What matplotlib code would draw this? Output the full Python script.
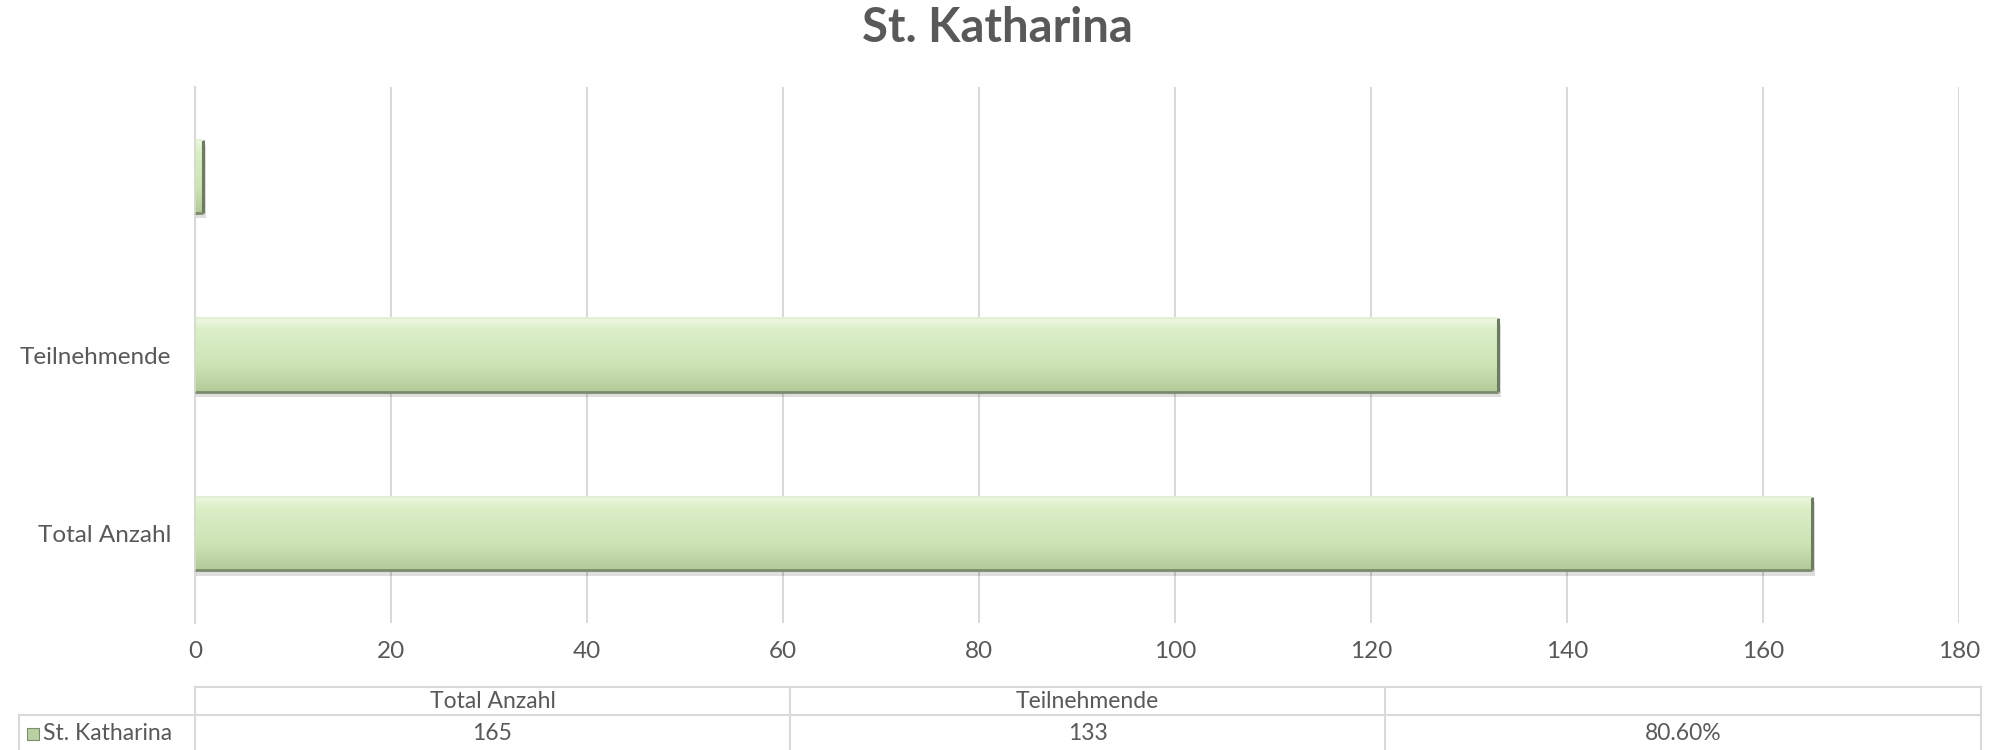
import numpy as np
import matplotlib
matplotlib.use("Agg")
import matplotlib.pyplot as plt
from matplotlib.lines import Line2D
from matplotlib.colors import LinearSegmentedColormap
import matplotlib.patches as mpatches

plt.rcParams['font.family'] = ['Lato', 'DejaVu Sans']

title = "St. Katharina"
categories = ["Total Anzahl", "Teilnehmende", ""]
values = [165, 133, 0.806]
table_values = ["165", "133", "80.60%"]
series_name = "St. Katharina"
xticks = [0, 20, 40, 60, 80, 100, 120, 140, 160, 180]

TXT = "#595959"
GRID = "#d9d9d9"

W, H = 1995, 750
fig = plt.figure(figsize=(W / 100, H / 100), dpi=100)

ax_left, ax_right, ax_top, ax_bot = 195, 1959, 87, 623
ax = fig.add_axes([ax_left / W, 1 - ax_bot / H, (ax_right - ax_left) / W, (ax_bot - ax_top) / H])

y = np.arange(len(categories))
bh = 0.41
ax.set_xlim(0, 180)
ax.set_ylim(-0.5, len(categories) - 0.5)

cmap = LinearSegmentedColormap.from_list(
    "g", [(0.0, "#b3c999"), (0.35, "#cde3b5"), (0.85, "#dcefc8"), (1.0, "#f0f8e6")])
grad = np.linspace(0, 1, 256).reshape(-1, 1)

bars = ax.barh(y, values, height=bh, color="#d3e8bd", edgecolor="none", zorder=3)
for b in bars:
    x0, y0, w, h = b.get_x(), b.get_y(), b.get_width(), b.get_height()
    # shadow
    sh = mpatches.Rectangle((x0, y0 - 0.03), w + 0.3, h, facecolor="#000000", alpha=0.13,
                            edgecolor="none", zorder=2)
    ax.add_patch(sh)
    im = ax.imshow(grad, extent=(x0, x0 + w, y0, y0 + h), origin="lower", cmap=cmap,
                   aspect="auto", zorder=4, interpolation="bicubic")
    im.set_clip_path(b)
    # bevel edges
    ax.plot([x0 + w, x0 + w], [y0, y0 + h], color="#6d7b60", lw=2.2, zorder=5,
            solid_capstyle="butt")
    ax.plot([x0, x0 + w], [y0, y0], color="#7c8a6e", lw=2.0, zorder=5, solid_capstyle="butt")
    ax.plot([x0, x0 + w], [y0 + h, y0 + h], color="#e4f0d6", lw=1.5, zorder=5,
            solid_capstyle="butt")
    ax.plot([x0, x0], [y0, y0 + h], color="#cfe0bd", lw=1.2, zorder=5, solid_capstyle="butt")

ax.set_xlim(0, 180)
ax.set_ylim(-0.5, len(categories) - 0.5)

ax.set_xticks(xticks)
ax.set_xticklabels([str(t) for t in xticks])
ax.set_yticks(y)
ax.set_yticklabels(categories)
ax.tick_params(axis="both", length=0, labelsize=17.5, colors=TXT)
ax.tick_params(axis="x", pad=13)
ax.tick_params(axis="y", pad=17)
ax.grid(axis="x", color=GRID, lw=1.5, zorder=0)
ax.set_axisbelow(True)
for s in ["top", "right", "bottom"]:
    ax.spines[s].set_visible(False)
ax.spines["left"].set_color(GRID)
ax.spines["left"].set_linewidth(1.5)

fig.text(0.5, 1 - 28 / H, title, ha="center", va="center", fontsize=34,
         fontweight="bold", color=TXT)

# data table
def fx(px):
    return px / W

def fy(py):
    return 1 - py / H

cols = [195, 790, 1385, 1981]
top, mid, bot = 687, 715, 752
lines = [
    ([cols[0], cols[3]], [top, top]),
    ([19, cols[3]], [mid, mid]),
    ([19, 19], [mid, bot]),
]
for c in cols:
    lines.append(([c, c], [top, bot]))
for xs, ys in lines:
    fig.add_artist(Line2D([fx(v) for v in xs], [fy(v) for v in ys], color=GRID, lw=1.5))

for i in range(3):
    cx = (cols[i] + cols[i + 1]) / 2
    fig.text(fx(cx), fy(701), categories[i], ha="center", va="center", fontsize=16.5, color=TXT)
    fig.text(fx(cx), fy(734), table_values[i], ha="center", va="center", fontsize=16.5, color=TXT)

fig.add_artist(mpatches.Rectangle((fx(27), fy(740)), 12 / W, 12 / H, facecolor="#b9d0a0",
                                  edgecolor="#7c8a6e", lw=0.8))
fig.text(fx(43), fy(734), series_name, ha="left", va="center", fontsize=16.5, color=TXT)

fig.savefig("out.png", dpi=100, facecolor="white")
